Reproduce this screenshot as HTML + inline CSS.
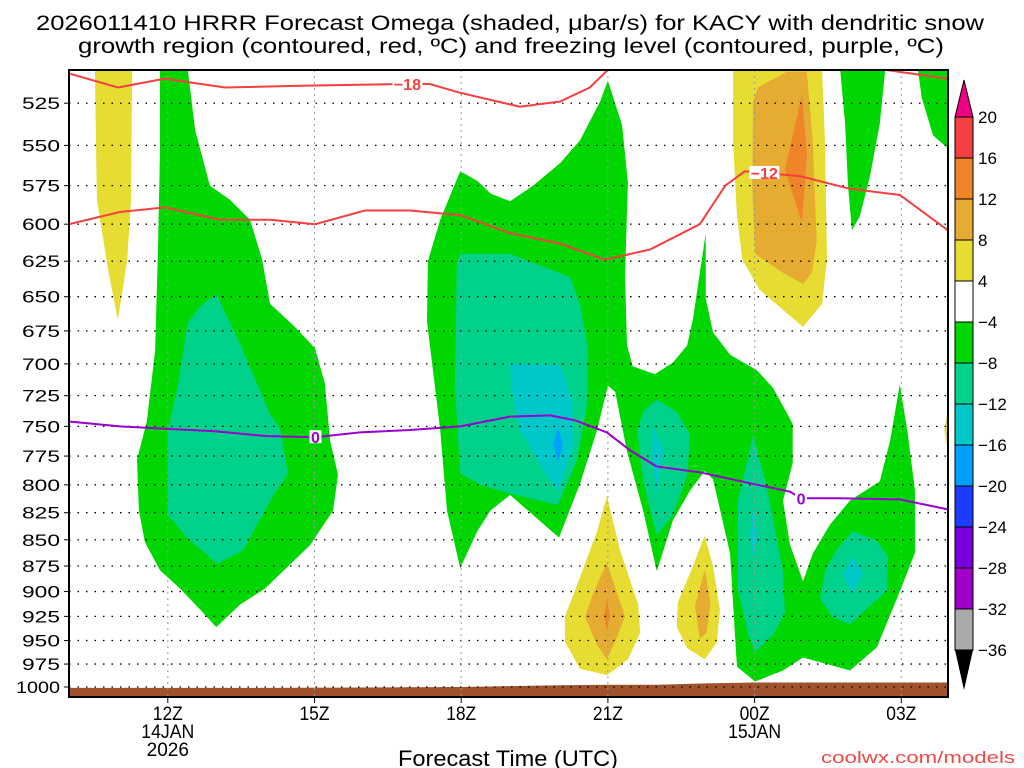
<!DOCTYPE html>
<html><head><meta charset="utf-8"><style>
html,body{margin:0;padding:0;background:#fff;}
svg{display:block;font-family:"Liberation Sans",sans-serif;}
</style></head><body>
<svg id="chart" width="1024" height="768" viewBox="0 0 1024 768" xmlns="http://www.w3.org/2000/svg">
<text x="510" y="30" font-size="21" text-anchor="middle" textLength="948" lengthAdjust="spacingAndGlyphs">2026011410 HRRR Forecast Omega (shaded, μbar/s) for KACY with dendritic snow</text>
<text x="511" y="53" font-size="21" text-anchor="middle" textLength="866" lengthAdjust="spacingAndGlyphs">growth region (contoured, red, ºC) and freezing level (contoured, purple, ºC)</text>
<g id="plot"></g>
<text x="508" y="766" font-size="22" text-anchor="middle" textLength="220" lengthAdjust="spacingAndGlyphs">Forecast Time (UTC)</text>
<text x="1015" y="763" font-size="17" fill="#f04848" text-anchor="end" textLength="194" lengthAdjust="spacingAndGlyphs">coolwx.com/models</text>
</svg>
<script>
// ---- data ----
const pressureTicks=[525,550,575,600,625,650,675,700,725,750,775,800,825,850,875,900,925,950,975,1000];
const timeTickHours=[2,5,8,11,14,17];
const timeTickLabels=["12Z","15Z","18Z","21Z","00Z","03Z"];
const dateLabels=[[2,"14JAN"],[2,"2026"],[14,"15JAN"]];
const colorLevels=[20,16,12,8,4,-4,-8,-12,-16,-20,-24,-28,-32,-36];
const colorFills=["#f44040","#f08428","#e6ac32","#e6dc32","#ffffff","#00d600","#00d28c","#00c8c8","#00a0ff","#1e3cff","#7800dc","#a000c8","#aaaaaa"];
const surfaceHours=[0,2,4,6,8,9,10,11,12,13,14,16,18];
const surfaceP=[1001,1001,1001,1000.5,1000,999,998,997.5,997.5,996,995,995,995];
// dendritic growth region (-18 / -12 C) and freezing level (0 C): [hour since 10Z, hPa]
const dgzUpperA=[[-0.02,508],[0.98,516],[1.94,511],[3.17,516],[4.7,515],[6.75,514],[7.36,514],[7.98,519],[9.2,527],[10.02,524],[10.63,516],[11.0,506]];
const dgzUpperB=[[16.67,506],[17.95,511]];
const dgzLower=[[-0.02,600],[1.02,592],[1.94,589],[3.07,597],[4.09,597],[5.01,600],[6.03,591],[6.95,591],[7.98,594],[9.0,606],[10.02,613],[10.94,624],[11.86,617],[12.88,600],[13.4,575],[13.8,566],[14.93,569],[15.95,577],[16.97,581],[17.95,604]];
const freezeLevel=[[-0.02,746],[1.02,750],[1.94,752],[2.97,754],[3.99,758],[5.01,759],[5.93,755],[6.95,753],[7.98,750],[9.0,742],[9.82,741],[10.33,745],[10.98,755],[11.45,770],[12.0,784],[12.88,789],[13.95,799],[14.72,806],[14.95,812],[15.75,812],[16.97,813],[17.95,822]];
// omega shaded regions: level index into colorFills, polygon [hour, hPa]
const yellowStrip=[[0.51,506],[1.27,506],[1.25,584],[1.17,624],[0.98,667],[0.78,631],[0.55,584]];
const greenBlob1=[[1.84,506],[2.41,506],[2.56,541],[2.86,575],[3.27,584],[3.68,597],[3.93,624],[4.09,655],[4.6,672],[5.01,688],[5.21,715],[5.32,762],[5.48,791],[5.38,823],[4.91,855],[3.99,897],[3.48,913],[2.99,936],[2.66,918],[2.25,897],[1.84,879],[1.53,852],[1.41,823],[1.37,778],[1.57,746],[1.74,690],[1.8,617],[1.84,553]];
const tealBlob1=[[2.99,648],[3.52,688],[4.09,740],[4.29,751],[4.46,790],[4.15,810],[3.54,860],[3.01,873],[2.39,848],[2.0,827],[2.0,753],[2.19,720],[2.41,669],[2.66,657]];
const greenBlob2=[[7.98,566],[7.57,597],[7.32,625],[7.3,668],[7.57,753],[7.71,823],[7.98,877],[8.33,842],[8.6,823],[9.0,809],[10.0,848],[10.43,799],[10.78,753],[11.0,717],[11.15,722],[11.39,771],[11.72,823],[12.0,880],[12.33,832],[12.68,805],[12.98,788],[13.15,795],[13.5,863],[13.6,945],[13.64,978],[14.01,994],[14.58,982],[14.99,968],[15.95,982],[16.5,957],[16.97,900],[17.28,862],[17.28,805],[17.12,753],[16.97,716],[16.77,762],[16.56,797],[15.95,814],[15.54,836],[15.19,863],[14.99,890],[14.72,854],[14.58,814],[14.78,781],[14.78,748],[14.38,719],[14.05,705],[13.5,693],[13.15,676],[13.0,651],[13.0,606],[12.74,666],[12.62,686],[12.33,699],[11.96,708],[11.51,702],[11.39,686],[11.35,635],[11.41,573],[11.29,538],[11.0,512],[10.84,524],[10.43,547],[10.02,561],[9.47,575],[9.0,585],[8.6,580],[8.33,572]];
const tealBlob2=[[7.98,620],[9.0,620],[10.22,636],[10.43,655],[10.59,688],[10.57,733],[10.37,778],[9.98,818],[9.0,808],[8.39,800],[7.98,790],[7.87,719],[7.91,627]];
const cyanBlob2=[[9.0,700],[10.02,701],[10.27,729],[10.29,767],[9.98,806],[9.68,787],[9.2,753],[9.04,723]];
const blueSpot2=[[9.98,751],[10.08,765],[9.98,780],[9.88,765]];
const tealBlob3=[[12.0,728],[12.41,738],[12.68,757],[12.62,792],[12.33,827],[12.0,846],[11.72,796],[11.6,754],[11.72,738]];
const cyanBlob3=[[11.92,750],[12.13,771],[12.0,809],[11.9,774]];
const tealBlob4=[[13.97,757],[14.25,802],[14.58,880],[14.62,922],[14.38,944],[14.01,962],[13.87,944],[13.66,899],[13.66,814],[13.81,787]];
const cyanBlob4=[[13.97,818],[14.07,849],[13.97,869],[13.91,846]];
const tealBlob5=[[16.01,842],[16.5,851],[16.73,866],[16.71,899],[16.3,917],[15.95,933],[15.6,926],[15.34,907],[15.44,880],[15.68,859]];
const cyanBlob5=[[16.01,866],[16.22,882],[15.99,903],[15.81,882]];
const greenTopRight1=[[15.75,506],[16.67,506],[16.56,537],[16.36,569],[16.15,595],[15.99,604],[15.91,575],[15.85,537]];
const greenTopRight2=[[17.34,506],[18.0,506],[18.0,553],[17.65,544],[17.42,522]];
const yellowEdge=[[18.05,715],[18.05,795],[17.88,753]];
const yellowTop=[[13.56,506],[15.38,506],[15.44,548],[15.48,624],[15.38,655],[14.99,672],[14.66,662],[14.1,645],[13.75,624],[13.64,595],[13.56,548]];
const goldTop=[[14.07,516],[14.66,507],[15.07,507],[15.19,548],[15.27,612],[15.17,633],[14.99,641],[14.58,633],[14.01,620],[13.95,575],[13.97,524]];
const orangeTop=[[14.97,520],[15.07,556],[14.97,599],[14.62,565]];
const yellowDrop1=[[10.98,810],[11.25,860],[11.62,913],[11.66,942],[11.41,970],[10.98,987],[10.43,980],[10.12,951],[10.12,925],[10.43,886],[10.78,842]];
const goldDrop1=[[10.98,872],[11.35,925],[11.15,951],[10.98,970],[10.78,955],[10.53,925],[10.74,897]];
const orangeDrop1=[[10.98,907],[11.04,925],[10.98,940],[10.92,925]];
const yellowDrop2=[[12.98,846],[13.15,875],[13.29,918],[13.23,952],[12.98,970],[12.62,958],[12.41,936],[12.43,911],[12.74,875]];
const goldDrop2=[[12.98,879],[13.1,911],[13.02,942],[12.88,948],[12.78,915]];
const shadedRegions=[
 ["yellow-strip",3,yellowStrip],["green-region-1",5,greenBlob1],["teal-region-1",6,tealBlob1],
 ["green-region-2",5,greenBlob2],["teal-region-2",6,tealBlob2],["cyan-region-2",7,cyanBlob2],["blue-spot-2",8,blueSpot2],
 ["teal-region-3",6,tealBlob3],["cyan-region-3",7,cyanBlob3],["teal-region-4",6,tealBlob4],["cyan-region-4",7,cyanBlob4],
 ["teal-region-5",6,tealBlob5],["cyan-region-5",7,cyanBlob5],["green-top-right-1",5,greenTopRight1],["green-top-right-2",5,greenTopRight2],
 ["yellow-edge",3,yellowEdge],["yellow-top",3,yellowTop],["gold-top",2,goldTop],["orange-top",1,orangeTop],
 ["yellow-drop-1",3,yellowDrop1],["gold-drop-1",2,goldDrop1],["orange-drop-1",1,orangeDrop1],
 ["yellow-drop-2",3,yellowDrop2],["gold-drop-2",2,goldDrop2]
];
// ---- axes ----
const PL=69,PR=948,PT=70,PB=697;
const X=h=>70+h*48.9;
const Y=p=>687-906*Math.log(1000/p);
const NS="http://www.w3.org/2000/svg";
const plot=document.getElementById('plot');
function mk(tag,attrs,parent){const e=document.createElementNS(NS,tag);for(const k in attrs)e.setAttribute(k,attrs[k]);(parent||plot).appendChild(e);return e;}
const ptsStr=arr=>arr.map(d=>X(d[0]).toFixed(1)+","+Y(d[1]).toFixed(1)).join(" ");
const defs=mk('defs',{});
const cp=mk('clipPath',{id:'clip'},defs);mk('rect',{x:PL,y:PT,width:PR-PL,height:PB-PT},cp);
const g=mk('g',{'clip-path':'url(#clip)'});


shadedRegions.forEach(r=>{
 const e=mk('polygon',{points:ptsStr(r[2]),fill:colorFills[r[1]]},g);
 
 
});
// ground
const gp=surfaceHours.map((h,i)=>[h,surfaceP[i]]);
const ground=mk('polygon',{points:ptsStr(gp)+" "+X(18.2)+","+(PB+5)+" "+X(-0.2)+","+(PB+5),fill:'#a0522d'},g);


// gridlines
pressureTicks.forEach(p=>{
 const l=mk('line',{x1:PL,x2:PR,y1:Y(p),y2:Y(p),stroke:'#000','stroke-width':1.3,'stroke-dasharray':'1.5,7'},g);
 
 
});
timeTickHours.forEach(h=>{
 const l=mk('line',{x1:X(h),x2:X(h),y1:PT,y2:PB,stroke:'#999','stroke-width':1,'stroke-dasharray':'2,4'},g);
 
 
});
// contour lines
function line(arr,color,name){
 const e=mk('polyline',{points:ptsStr(arr),fill:'none',stroke:color,'stroke-width':2},g);
 
 
}
line(dgzUpperA,'#f44040','minus18-contour');
line(dgzUpperB,'#f44040','minus18-contour-right');
line(dgzLower,'#f44040','minus12-contour');
line(freezeLevel,'#9a00d0','freezing-level-contour');
function clabel(h,p,txt,color,name,w){
 mk('rect',{x:X(h)-w/2,y:Y(p)-7,width:w,height:13,fill:'#fff'},g);
 const t=mk('text',{x:X(h),y:Y(p)+6,'font-size':16,'font-weight':'bold',fill:color,'text-anchor':'middle'},g);
 t.textContent=txt;
 
 
}
clabel(6.9,514,"−18","#f44040","minus18-label",30);
clabel(14.2,567,"−12","#f44040","minus12-label",30);
clabel(14.95,812,"0","#9a00d0","freezing-label",12);
clabel(5.02,759,"0","#9a00d0","freezing-label-left",12);
// frame
const fr=mk('rect',{x:PL,y:PT,width:PR-PL,height:PB-PT,fill:'none',stroke:'#000','stroke-width':2});


// y labels
pressureTicks.forEach(p=>{
 const t=mk('text',{x:60,y:Y(p)+6,'font-size':17,'text-anchor':'end',textLength:38,lengthAdjust:'spacingAndGlyphs'});
 if(p===1000){t.setAttribute('textLength',44);}
 t.textContent=p;
 
 
 const k=mk('line',{x1:PL-5,x2:PL,y1:Y(p),y2:Y(p),stroke:'#000'});
 
 
});
// x labels
timeTickHours.forEach((h,i)=>{
 const k=mk('line',{x1:X(h),x2:X(h),y1:PB,y2:PB+6,stroke:'#000'});
 
 
 const t=mk('text',{x:X(h),y:720,'font-size':19,'text-anchor':'middle',textLength:30,lengthAdjust:'spacingAndGlyphs'});
 t.textContent=timeTickLabels[i];
 
 
});
dateLabels.forEach((d,i)=>{
 const y=(d[1]==="2026")?756:738;
 const t=mk('text',{x:X(d[0]),y:y,'font-size':19,'text-anchor':'middle',textLength:d[1].length*10.6,lengthAdjust:'spacingAndGlyphs'});
 t.textContent=d[1];
 
 
});
// colorbar
const CBX=955,CBW=18,CBT=117,STEP=41;
const cb=mk('g',{});


const tt=mk('polygon',{points:`${CBX},${CBT} ${CBX+CBW},${CBT} ${CBX+CBW/2},${CBT-37}`,fill:'#f00082',stroke:'#000'},cb);


colorFills.forEach((c,i)=>{
 const r=mk('rect',{x:CBX,y:CBT+i*STEP,width:CBW,height:STEP,fill:c,stroke:'#000','stroke-width':1},cb);
 
 
});
const bot=CBT+colorFills.length*STEP;
const bt=mk('polygon',{points:`${CBX},${bot} ${CBX+CBW},${bot} ${CBX+CBW/2},${bot+40}`,fill:'#000'},cb);


colorLevels.forEach((v,i)=>{
 const t=mk('text',{x:978,y:CBT+i*STEP+6,'font-size':17},cb);
 t.textContent=v<0?"−"+Math.abs(v):String(v);
 
 
});
</script>
</body></html>
